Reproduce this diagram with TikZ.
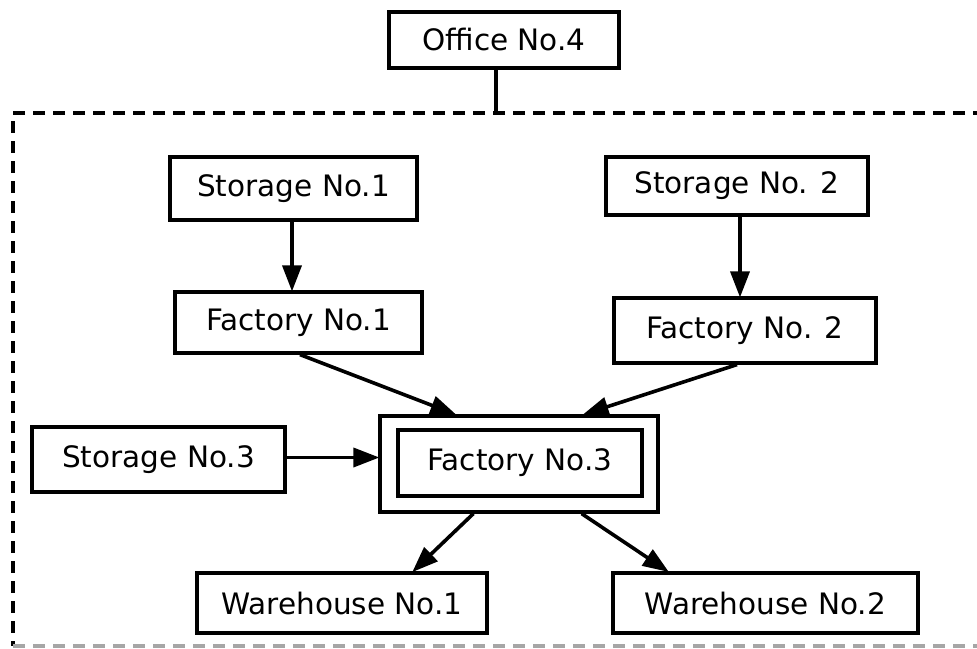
\documentclass[tikz,border=0pt]{standalone}
\usepackage{fontspec}
\setmainfont{DejaVu Sans}
\usetikzlibrary{arrows.meta,calc}
\begin{document}
\begin{tikzpicture}[x=1pt,y=-1pt,
  box/.style={draw,line width=3.2pt,rectangle,inner sep=0pt,align=center,
    font=\fontsize{29.5}{32}\selectfont},
  arr/.style={line width=3.6pt,-{Triangle[length=26pt,width=19pt]},shorten >=-1pt},
  link/.style={line width=3.4pt},
  frame/.style={line width=3.2pt,dash pattern=on 12pt off 8pt}]
\useasboundingbox (0,0) rectangle (977,648);

% boxes
\node[box,minimum width=230pt,minimum height=56pt] (office) at (504,40) {Office No.4};
\node[box,minimum width=247pt,minimum height=63pt] (s1) at (293.5,188.5) {Storage No.1};
\node[box,minimum width=247pt,minimum height=61pt] (f1) at (298.5,322.5) {Factory No.1};
\node[box,minimum width=262pt,minimum height=58pt] (s2) at (737,186) {Storage No. 2};
\node[box,minimum width=262pt,minimum height=65pt] (f2) at (745,330.5) {Factory No. 2};
\node[box,minimum width=253pt,minimum height=65pt] (s3) at (158.5,459.5) {Storage No.3};
\node[box,minimum width=278pt,minimum height=96pt] (f3) at (519,464) {};
\node[box,minimum width=244pt,minimum height=66pt] (f3in) at (520,463) {Factory No.3};
\node[box,minimum width=290pt,minimum height=60pt] (w1) at (342,603) {Warehouse No.1};
\node[box,minimum width=305pt,minimum height=60pt] (w2) at (765.5,603) {Warehouse No.2};

% dashed enclosure
\coordinate (tl) at (13,113);
\coordinate (bl) at (13,646);
\coordinate (tap) at (496,113);
\draw[frame] (985,113) -- (tl) -- (bl);
\draw[frame,black!35] (bl) -- (985,646);
\draw[link] (tap |- office.south) -- (tap);

% connectors
\draw[arr] ([xshift=-1.5pt]s1.south) -- ([xshift=-1.5pt]s1.south |- f1.north);
\draw[arr] ([xshift=3pt]s2.south) -- ([xshift=3pt]s2.south |- f2.north);
\draw[arr] ([xshift=1.5pt]f1.south) -- ([xshift=77pt]f3.north west);
\draw[arr] ([xshift=-8pt]f2.south) -- ([xshift=-76pt]f3.north east);
\draw[arr] ([yshift=2pt]s3.east) -- ([yshift=2pt]s3.east -| f3.west);
\draw[arr] ([xshift=95pt]f3.south west) -- ([xshift=71pt]w1.north);
\draw[arr] ([xshift=-78pt]f3.south east) -- ([xshift=-97.5pt]w2.north);
\end{tikzpicture}
\end{document}
